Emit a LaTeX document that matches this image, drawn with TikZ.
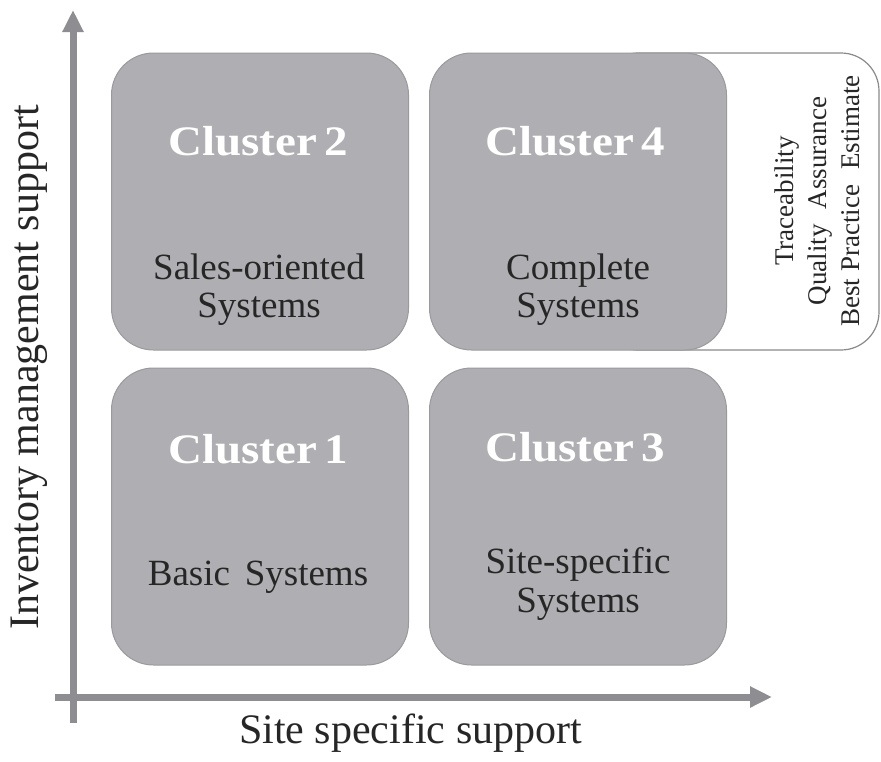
\documentclass[tikz,border=0pt]{standalone}
\usepackage{fontspec}
\setmainfont{Liberation Serif}
\newfontfamily\titlefont[FakeStretch=1.12]{Liberation Serif}
\usetikzlibrary{arrows.meta}
\definecolor{axisgray}{HTML}{8E8E92}
\definecolor{boxfill}{HTML}{AFAFB3}
\definecolor{boxline}{HTML}{9A9A9E}
\definecolor{outline}{HTML}{8A8A8A}
\definecolor{ink}{HTML}{262626}
\tikzset{
  axis/.style={draw=axisgray, line width=7pt, -{Triangle[length=22pt,width=20pt]}},
  clusterbox/.style={draw=boxline, fill=boxfill, line width=1pt, rounded corners=42pt,
     minimum width=297pt, minimum height=297pt, inner sep=0pt, outer sep=0pt},
  sidebox/.style={draw=outline, fill=white, line width=1.2pt, rounded corners=38pt,
     minimum width=279pt, minimum height=297pt, inner sep=0pt, outer sep=0pt},
  title/.style={text=white, font=\titlefont\bfseries\fontsize{42}{46}\selectfont, anchor=base, inner sep=0pt},
  body/.style={text=ink, font=\fontsize{37}{40}\selectfont, anchor=base, inner sep=0pt},
  axlabel/.style={text=ink, font=\fontsize{42}{46}\selectfont, anchor=base, inner sep=0pt},
  sidetext/.style={text=ink, font=\fontsize{27}{30}\selectfont, anchor=base, inner sep=0pt, rotate=90}
}
\begin{document}
\begin{tikzpicture}[x=1pt,y=-1pt]
\useasboundingbox (0,0) rectangle (881,761);

% side box behind cluster 4
\node[sidebox] (side) at (739.5,201.5) {};

% cluster boxes
\node[clusterbox] (c2) at (260,201.5) {};
\node[clusterbox] (c4) at (578,201.5) {};
\node[clusterbox] (c1) at (260,516.5) {};
\node[clusterbox] (c3) at (578,516.5) {};

% titles
\node[title] (t2) at (258,155) {Cluster\,2};
\node[title] (t4) at (575,155) {Cluster\,4};
\node[title] (t1) at (258,463) {Cluster\,1};
\node[title] (t3) at (575,461) {Cluster\,3};

% body texts
\node[body] (b2a) at (259,279) {Sales-oriented};
\node[body] (b2b) at (259,317) {Systems};
\node[body] (b4a) at (578,279) {Complete};
\node[body] (b4b) at (578,317) {Systems};
\node[body] (b1a) at (258,585) {Basic\hspace{0.15em} Systems};
\node[body] (b3a) at (578,573) {Site-specific};
\node[body] (b3b) at (578,612) {Systems};

% side texts
\node[sidetext] (s1) at (793,201) {Traceability};
\node[sidetext] (s2) at (826,201) {Quality\hspace{0.3em} Assurance};
\node[sidetext] (s3) at (859,201) {Best Practice\hspace{0.3em} Estimate};

% axes
\coordinate (yb) at (73,723);
\coordinate (yt) at (73,10);
\coordinate (xl) at (55,697);
\coordinate (xr) at (772,697);
\draw[axis] (yb) -- (yt);
\draw[axis] (xl) -- (xr);

% axis labels
\node[axlabel, rotate=90] (ylab) at (38,367.5) {Inventory management support};
\node[axlabel] (xlab) at (410.5,743) {Site specific support};
\end{tikzpicture}
\end{document}
